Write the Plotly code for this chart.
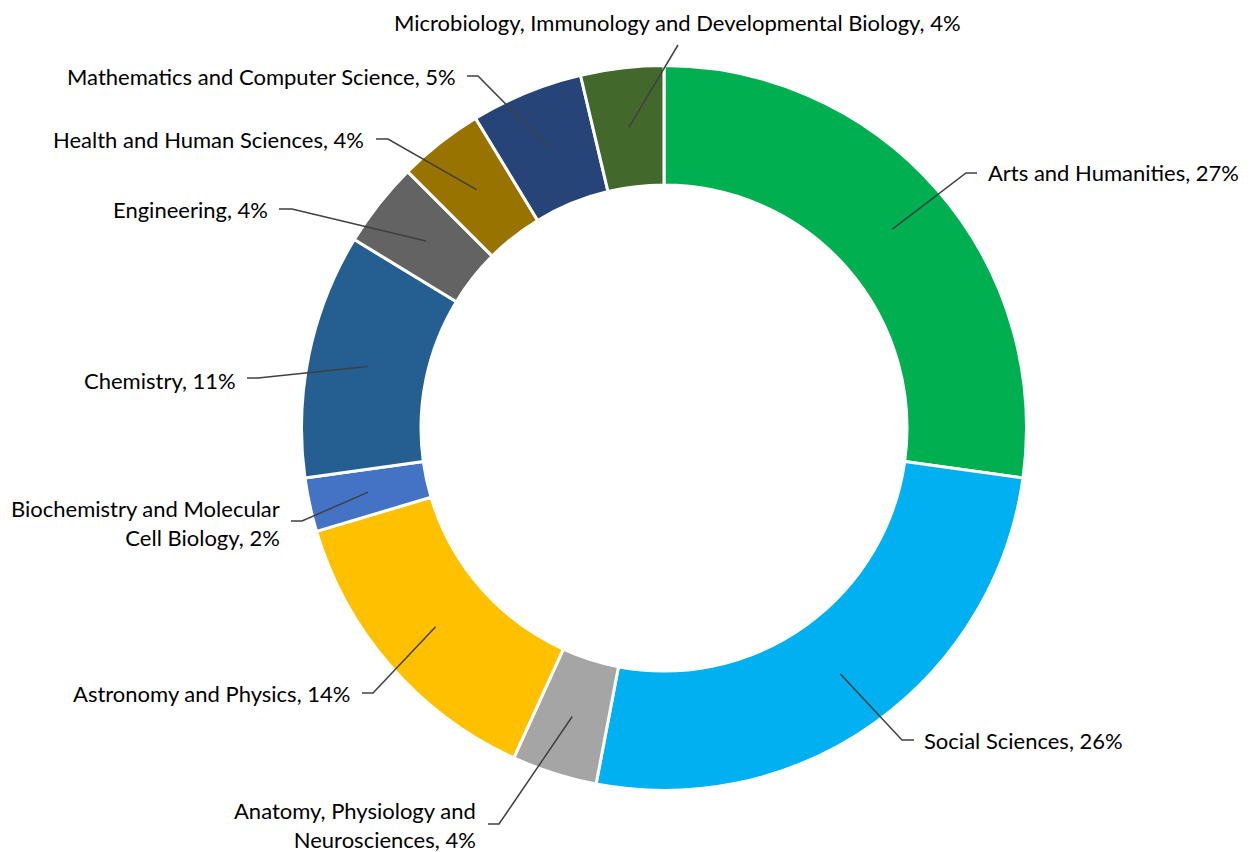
import math
import plotly.graph_objects as go

# ---- data ----
categories = [
    "Arts and Humanities",
    "Social Sciences",
    "Anatomy, Physiology and Neurosciences",
    "Astronomy and Physics",
    "Biochemistry and Molecular Cell Biology",
    "Chemistry",
    "Engineering",
    "Health and Human Sciences",
    "Mathematics and Computer Science",
    "Microbiology, Immunology and Developmental Biology",
]
values = [27.2, 25.8, 3.8, 13.6, 2.4, 10.9, 3.8, 3.8, 5.0, 3.7]
label_names = [
    "Arts and Humanities",
    "Social Sciences",
    "Anatomy, Physiology and<br>Neurosciences",
    "Astronomy and Physics",
    "Biochemistry and Molecular<br>Cell Biology",
    "Chemistry",
    "Engineering",
    "Health and Human Sciences",
    "Mathematics and Computer Science",
    "Microbiology, Immunology and Developmental Biology",
]
colors = ["#00B050", "#00B0F0", "#A5A5A5", "#FFC000", "#4472C4",
          "#255E91", "#636363", "#997300", "#264478", "#43682B"]

# ---- layout (pixels, in page coordinates) ----
PAGE_W, PAGE_H = 1252, 852
OFF = 8  # default body margin of the page
W, H = PAGE_W - OFF, PAGE_H - OFF
CX, CY = 664, 428
R_OUT, R_IN = 362.5, 243.0
R_LEAD = (R_OUT + R_IN) / 2
# per label: elbow x, elbow y, line end x, text x, text y, anchor
label_layout = [
    (966, 173, 977, 986, 173, "left"),
    (902, 740, 914, 922, 740, "left"),
    (499, 824, 488, 478, 825, "right"),
    (373, 693, 362, 352, 693, "right"),
    (302, 521, 291, 282, 523, "right"),
    (258, 378, 247, 238, 380, "right"),
    (292, 209, 279, 270, 209, "right"),
    (388, 139, 376, 366, 140, "right"),
    (478, 76, 467, 458, 77, "right"),
    (678, 45, 678, 678, 22, "center"),
]

FONT = "Lato"
FS = 22


def px(x):
    return (x - OFF) / W


def py(y):
    return 1 - (y - OFF) / H


total = sum(values)
fig = go.Figure(go.Pie(
    labels=categories,
    values=values,
    hole=R_IN / R_OUT,
    sort=False,
    direction="clockwise",
    rotation=0,
    marker=dict(colors=colors, line=dict(color="white", width=3)),
    textinfo="none",
    hoverinfo="label+percent",
    showlegend=False,
    domain=dict(x=[px(CX - R_OUT), px(CX + R_OUT)],
                y=[py(CY + R_OUT), py(CY - R_OUT)]),
))

shapes = []
annotations = []
cum = 0.0
for name, v, lay in zip(label_names, values, label_layout):
    mid = (cum + v / 2) / total * 2 * math.pi
    cum += v
    sx = CX + R_LEAD * math.sin(mid)
    sy = CY - R_LEAD * math.cos(mid)
    ex, ey, lx, tx, ty, anchor = lay
    path = f"M {px(sx)} {py(sy)} L {px(ex)} {py(ey)} L {px(lx)} {py(ey)}"
    shapes.append(dict(type="path", xref="paper", yref="paper", path=path,
                       line=dict(color="#404040", width=1.5)))
    pct = round(v / total * 100)
    annotations.append(dict(
        x=px(tx), y=py(ty), xref="paper", yref="paper",
        text=f"{name}, {pct}%", showarrow=False,
        xanchor=anchor, yanchor="middle", align=anchor,
        font=dict(family=FONT, size=FS, color="#000000"),
    ))

fig.update_layout(
    width=W, height=H,
    margin=dict(l=0, r=0, t=0, b=0),
    paper_bgcolor="white", plot_bgcolor="white",
    shapes=shapes, annotations=annotations,
)
fig.write_html("out.html")
